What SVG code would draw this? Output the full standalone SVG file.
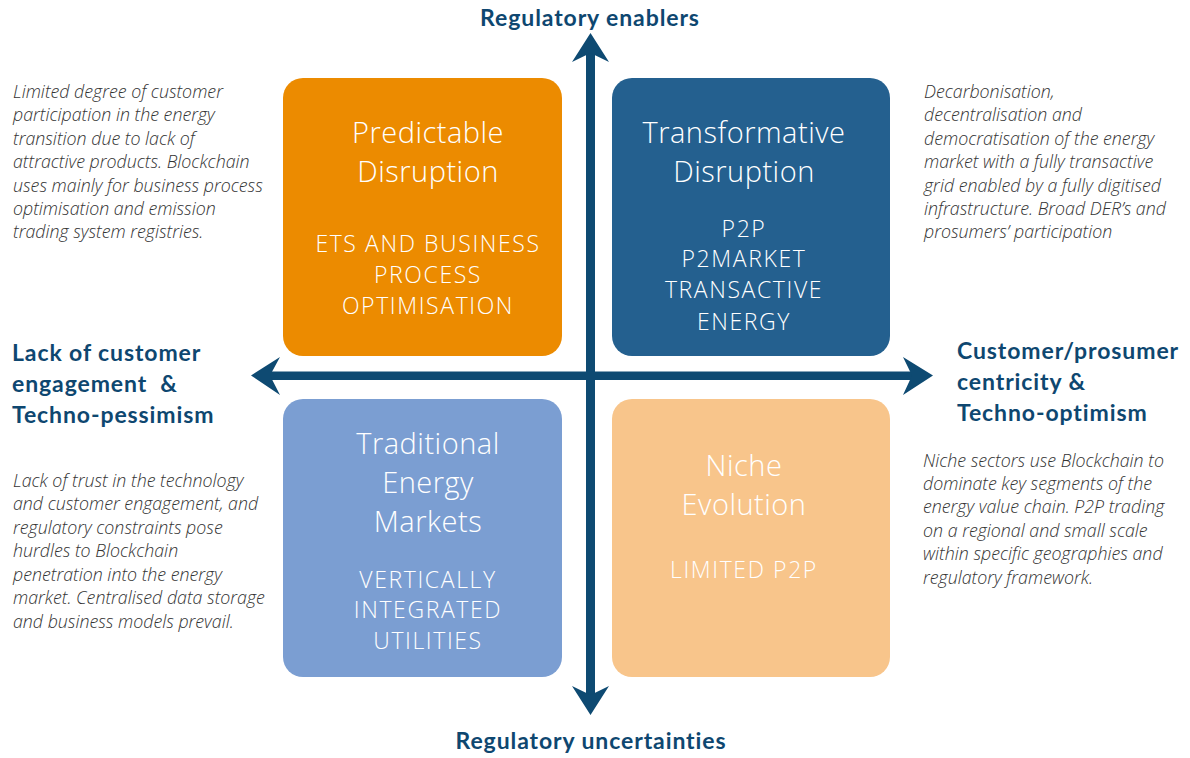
<svg xmlns="http://www.w3.org/2000/svg" width="1190" height="758" viewBox="0 0 1190 758">
<style>
.box-title{font-family:"Open Sans",Lato,"Liberation Sans",sans-serif;font-weight:300;font-size:29px;letter-spacing:0.5px;fill:#fff;text-anchor:middle}
.box-sub{font-family:"Open Sans",Lato,"Liberation Sans",sans-serif;font-weight:300;font-size:23px;letter-spacing:1.6px;fill:#fff;text-anchor:middle}
.side{font-family:"Open Sans",Lato,"Liberation Sans",sans-serif;font-weight:300;font-style:italic;font-size:17.8px;fill:#333}
.head{font-family:Lato,"Open Sans","Liberation Sans",sans-serif;font-weight:700;font-size:23px;letter-spacing:0.9px;fill:#0E4770}
.arrow{fill:#0E4A72}
</style>
<rect width="1190" height="758" fill="#fff"/>
<g id="connectors">
<rect class="arrow" x="268" y="371.5" width="646" height="8.5"/>
<rect class="arrow" x="586" y="50" width="9" height="648"/>
<path class="arrow" d="M251,375.5 L280,357 L270,375.5 L280,395 Z"/>
<path class="arrow" d="M933,375.5 L903,357 L912,375.5 L903,395 Z"/>
<path class="arrow" d="M590.5,33 L572,62 L590.5,53 L609,62 Z"/>
<path class="arrow" d="M590.5,715 L572,686 L590.5,695 L609,686 Z"/>
</g>
<g id="predictable">
<rect x="283" y="78" width="279" height="278" rx="20" fill="#EC8B00"/>
<text class="box-title" x="428" y="143">Predictable</text>
<text class="box-title" x="428" y="182">Disruption</text>
<text class="box-sub" x="428" y="252">ETS AND BUSINESS</text>
<text class="box-sub" x="428" y="283">PROCESS</text>
<text class="box-sub" x="428" y="314">OPTIMISATION</text>
</g>
<g id="transformative">
<rect x="612" y="78" width="278" height="278" rx="20" fill="#24608F"/>
<text class="box-title" x="744" y="143">Transformative</text>
<text class="box-title" x="744" y="182">Disruption</text>
<text class="box-sub" x="744" y="237">P2P</text>
<text class="box-sub" x="744" y="267">P2MARKET</text>
<text class="box-sub" x="744" y="298">TRANSACTIVE</text>
<text class="box-sub" x="744" y="330">ENERGY</text>
</g>
<g id="traditional">
<rect x="283" y="399" width="279" height="278" rx="20" fill="#7B9ED2"/>
<text class="box-title" x="428" y="454">Traditional</text>
<text class="box-title" x="428" y="493">Energy</text>
<text class="box-title" x="428" y="532">Markets</text>
<text class="box-sub" x="428" y="588">VERTICALLY</text>
<text class="box-sub" x="428" y="618">INTEGRATED</text>
<text class="box-sub" x="428" y="649">UTILITIES</text>
</g>
<g id="niche">
<rect x="612" y="399" width="278" height="278" rx="20" fill="#F8C58B"/>
<text class="box-title" x="744" y="476">Niche</text>
<text class="box-title" x="744" y="515">Evolution</text>
<text class="box-sub" x="744" y="578">LIMITED P2P</text>
</g>
<g id="desc-top-left">
<text class="side" x="13" y="98">Limited degree of customer</text>
<text class="side" x="13" y="121">participation in the energy</text>
<text class="side" x="13" y="145">transition due to lack of</text>
<text class="side" x="13" y="168">attractive products. Blockchain</text>
<text class="side" x="13" y="192">uses mainly for business process</text>
<text class="side" x="13" y="215">optimisation and emission</text>
<text class="side" x="13" y="238">trading system registries.</text>
</g>
<g id="desc-top-right">
<text class="side" x="924" y="98">Decarbonisation,</text>
<text class="side" x="924" y="121">decentralisation and</text>
<text class="side" x="924" y="145">democratisation of the energy</text>
<text class="side" x="924" y="168">market with a fully transactive</text>
<text class="side" x="924" y="192">grid enabled by a fully digitised</text>
<text class="side" x="924" y="215">infrastructure. Broad DER’s and</text>
<text class="side" x="924" y="238">prosumers’ participation</text>
</g>
<g id="desc-bottom-left">
<text class="side" x="13" y="487">Lack of trust in the technology</text>
<text class="side" x="13" y="510">and customer engagement, and</text>
<text class="side" x="13" y="534">regulatory constraints pose</text>
<text class="side" x="13" y="557">hurdles to Blockchain</text>
<text class="side" x="13" y="581">penetration into the energy</text>
<text class="side" x="13" y="604">market. Centralised data storage</text>
<text class="side" x="13" y="628">and business models prevail.</text>
</g>
<g id="desc-bottom-right">
<text class="side" x="923" y="467">Niche sectors use Blockchain to</text>
<text class="side" x="923" y="490">dominate key segments of the</text>
<text class="side" x="923" y="513">energy value chain. P2P trading</text>
<text class="side" x="923" y="537">on a regional and small scale</text>
<text class="side" x="923" y="560">within specific geographies and</text>
<text class="side" x="923" y="584">regulatory framework.</text>
</g>
<g id="axis-top"><text class="head" x="590" y="26" text-anchor="middle">Regulatory enablers</text></g>
<g id="axis-bottom"><text class="head" x="591" y="749" text-anchor="middle">Regulatory uncertainties</text></g>
<g id="axis-left">
<text class="head" x="12" y="361">Lack of customer</text>
<text class="head" x="12" y="392" xml:space="preserve">engagement  &amp;</text>
<text class="head" x="12" y="423">Techno-pessimism</text>
</g>
<g id="axis-right">
<text class="head" x="957" y="359">Customer/prosumer</text>
<text class="head" x="957" y="390">centricity &amp;</text>
<text class="head" x="957" y="421">Techno-optimism</text>
</g>
</svg>
